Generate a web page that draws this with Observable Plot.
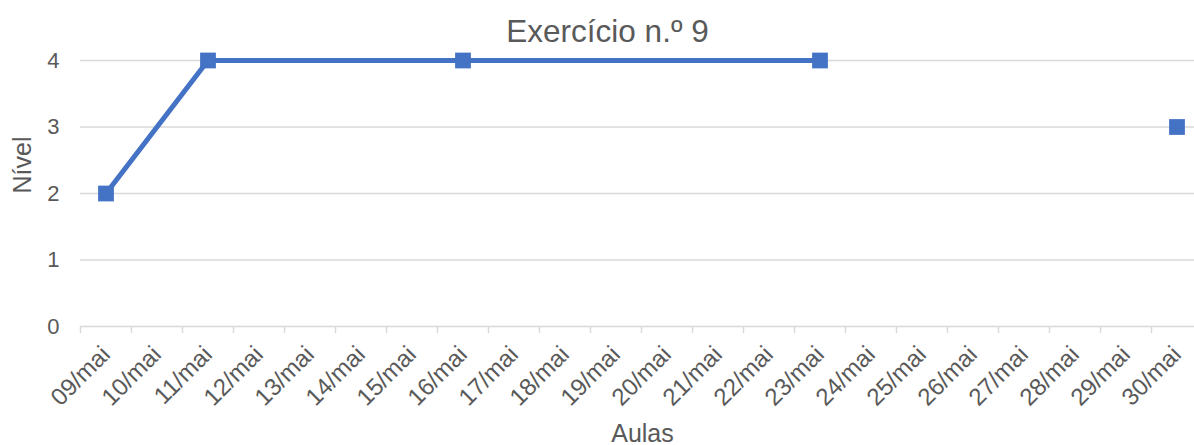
<!DOCTYPE html>
<html>
<head>
<meta charset="utf-8">
<script src="https://cdn.jsdelivr.net/npm/d3@7"></script>
<script src="https://cdn.jsdelivr.net/npm/@observablehq/plot@0.6"></script>
<style>
  body { margin: 0; background: #fff; }
</style>
</head>
<body>
<div id="chart"></div>
<script>
// Datas das aulas (eixo das categorias)
const aulas = [
  "09/mai", "10/mai", "11/mai", "12/mai", "13/mai", "14/mai", "15/mai", "16/mai",
  "17/mai", "18/mai", "19/mai", "20/mai", "21/mai", "22/mai", "23/mai", "24/mai",
  "25/mai", "26/mai", "27/mai", "28/mai", "29/mai", "30/mai"
];

// Aulas com avaliação e nível obtido
const datas = ["09/mai", "11/mai", "16/mai", "23/mai", "30/mai"];
const niveis = [2, 4, 4, 4, 3];
// Troços da linha (o último ponto fica isolado)
const trechos = [1, 1, 1, 1, 2];

const nivelTicks = [0, 1, 2, 3, 4];
const titulo = "Exercício n.º 9";
const tituloX = "Aulas";
const tituloY = "Nível";

const azul = "#4472C4";
const cinzaTexto = "#595959";
const cinzaLinha = "#d9d9d9";

const pontos = datas.map((d, i) => ({aula: d, nivel: niveis[i], trecho: trechos[i]}));

const chart = Plot.plot({
  width: 1194,
  height: 445,
  marginLeft: 80,
  marginRight: 0,
  marginTop: 60,
  marginBottom: 119,
  style: {fontFamily: "'Liberation Sans', Arial, sans-serif", fontSize: "22px", color: cinzaTexto, background: "#fff"},
  x: {type: "band", domain: aulas, range: [80, 1202], padding: 0, axis: null},
  y: {domain: [0, 4], axis: null},
  marks: [
    Plot.gridY(nivelTicks, {stroke: cinzaLinha, strokeOpacity: 1, strokeWidth: 1.5}),
    // marcas de divisão entre categorias
    Plot.ruleX(aulas, {x: (d) => d, y1: 0, y2: 0, dx: -25.5, insetBottom: -7, stroke: cinzaLinha, strokeWidth: 1.5}),
    // rótulos do eixo dos níveis
    Plot.text(nivelTicks, {
      y: (d) => d, text: (d) => String(d), frameAnchor: "left",
      textAnchor: "end", lineAnchor: "middle", dx: -21, fontSize: 22, fill: cinzaTexto
    }),
    // rótulos das aulas
    Plot.text(aulas, {
      x: (d) => d, text: (d) => d, frameAnchor: "bottom",
      rotate: -45, textAnchor: "end", lineAnchor: "middle",
      dx: 0, dy: 24, fontSize: 24, fill: cinzaTexto
    }),
    Plot.line(pontos, {x: "aula", y: "nivel", z: "trecho", stroke: azul, strokeWidth: 5, strokeLinejoin: "round"}),
    Plot.dot(pontos, {x: "aula", y: "nivel", symbol: "square", r: 8.9, fill: azul, stroke: null}),
    Plot.text([titulo], {frameAnchor: "top", text: (d) => d, dx: -30, dy: -29, lineAnchor: "middle", fontSize: 31.5, fill: cinzaTexto}),
    Plot.text([tituloX], {frameAnchor: "bottom", text: (d) => d, dx: 5, dy: 107, lineAnchor: "middle", fontSize: 25, fill: cinzaTexto}),
    Plot.text([tituloY], {frameAnchor: "left", text: (d) => d, rotate: -90, dx: -57.5, lineAnchor: "middle", fontSize: 25, fill: cinzaTexto})
  ]
});

document.getElementById("chart").appendChild(chart);
</script>
</body>
</html>
